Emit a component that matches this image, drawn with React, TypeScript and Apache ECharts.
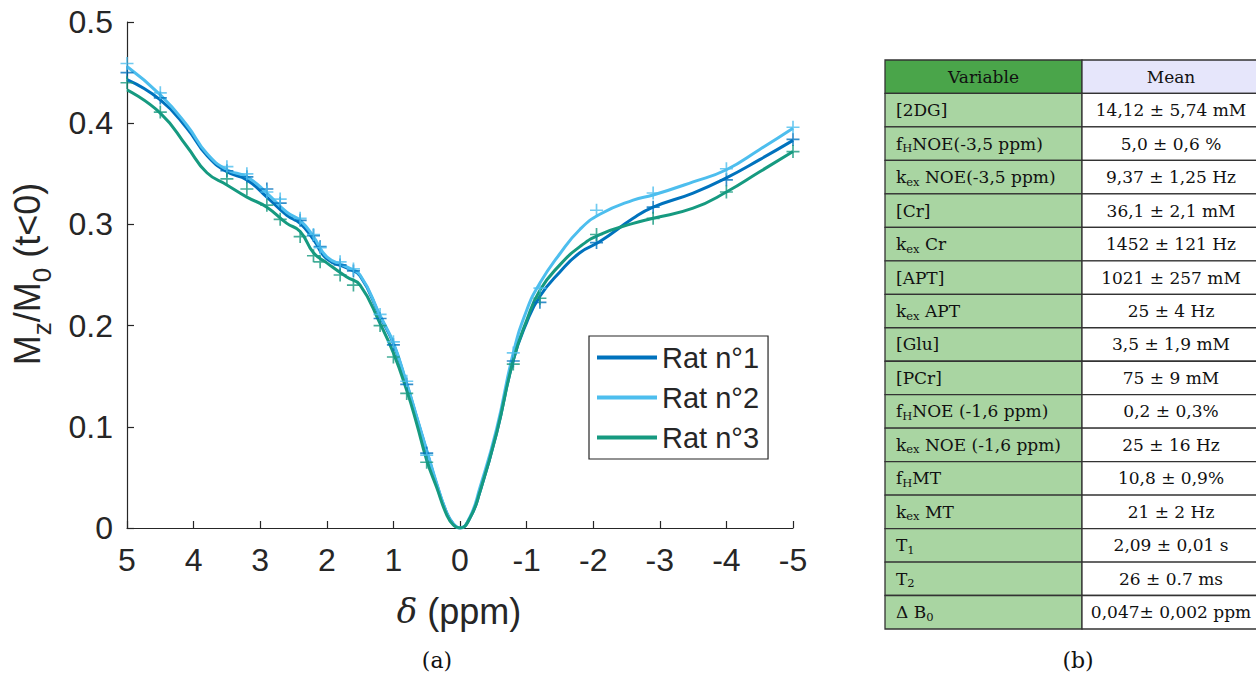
import React, { useEffect, useRef } from 'react';
import * as echarts from 'echarts';

// ---- Data ----
const seriesNames = ['Rat n°1', 'Rat n°2', 'Rat n°3'];

// measured offsets (ppm) for the "+" markers
const offsets = [5, 4.5, 3.5, 3.2, 2.9, 2.7, 2.4, 2.2, 2.1, 1.8, 1.6, 1.2, 1.0, 0.8, 0.5, -0.8, -1.2, -2.05, -2.9, -4, -5];
const rat1Measured = [0.450, 0.425, 0.353, 0.347, 0.335, 0.321, 0.304, 0.289, 0.278, 0.260, 0.254, 0.207, 0.181, 0.142, 0.074, 0.165, 0.223, 0.282, 0.317, 0.344, 0.384];
const rat2Measured = [0.459, 0.430, 0.357, 0.350, 0.332, 0.325, 0.306, 0.290, 0.277, 0.263, 0.256, 0.211, 0.184, 0.145, 0.072, 0.173, 0.237, 0.314, 0.331, 0.355, 0.396];
const rat3Measured = [0.440, 0.411, 0.345, 0.335, 0.319, 0.305, 0.288, 0.269, 0.263, 0.250, 0.240, 0.200, 0.169, 0.133, 0.065, 0.162, 0.227, 0.290, 0.306, 0.332, 0.372];

// fitted curves, read at these offsets
const fitOffsets = [5, 4.5, 4.1, 3.8, 3.5, 3.2, 2.9, 2.6, 2.4, 2.2, 2.0, 1.7, 1.5, 1.2, 1.0, 0.8, 0.65, 0.5, 0.35, 0.2, 0.1, 0, -0.15, -0.3, -0.55, -0.8, -1.0, -1.2, -1.5, -1.8, -2.1, -2.6, -2.9, -3.5, -4.0, -4.5, -5];
const rat1Fit = [0.443, 0.423, 0.395, 0.368, 0.352, 0.344, 0.327, 0.309, 0.301, 0.285, 0.266, 0.257, 0.249, 0.209, 0.182, 0.142, 0.109, 0.076, 0.043, 0.015, 0.004, 0, 0.010, 0.036, 0.094, 0.166, 0.203, 0.229, 0.253, 0.272, 0.283, 0.306, 0.317, 0.331, 0.346, 0.364, 0.383];
const rat2Fit = [0.456, 0.428, 0.398, 0.370, 0.354, 0.347, 0.331, 0.312, 0.304, 0.288, 0.268, 0.258, 0.250, 0.210, 0.183, 0.143, 0.110, 0.077, 0.044, 0.015, 0.004, 0, 0.011, 0.040, 0.098, 0.173, 0.215, 0.242, 0.271, 0.295, 0.310, 0.324, 0.329, 0.342, 0.354, 0.374, 0.395];
const rat3Fit = [0.433, 0.410, 0.377, 0.351, 0.339, 0.327, 0.317, 0.301, 0.293, 0.272, 0.262, 0.248, 0.240, 0.202, 0.173, 0.136, 0.103, 0.067, 0.040, 0.013, 0.003, 0, 0.010, 0.036, 0.094, 0.166, 0.205, 0.235, 0.260, 0.278, 0.290, 0.301, 0.306, 0.316, 0.332, 0.352, 0.372];

// table (b)
const tableHeader = ['Variable', 'Mean'];
const tableVariables = ['[2DG]', 'f_{H}NOE(-3,5 ppm)', 'k_{ex} NOE(-3,5 ppm)', '[Cr]', 'k_{ex} Cr', '[APT]', 'k_{ex} APT', '[Glu]', '[PCr]', 'f_{H}NOE (-1,6 ppm)', 'k_{ex} NOE (-1,6 ppm)', 'f_{H}MT', 'k_{ex} MT', 'T_{1}', 'T_{2}', 'Δ B_{0}'];
const tableMeans = ['14,12 ± 5,74 mM', '5,0 ± 0,6 %', '9,37 ± 1,25 Hz', '36,1 ± 2,1 mM', '1452 ± 121 Hz', '1021 ± 257 mM', '25 ± 4 Hz', '3,5 ± 1,9 mM', '75 ± 9 mM', '0,2 ± 0,3%', '25 ± 16 Hz', '10,8 ± 0,9%', '21 ± 2 Hz', '2,09 ± 0,01 s', '26 ± 0.7 ms', '0,047± 0,002 ppm'];

const colors = ['#0072BD', '#4DBEEE', '#169A80'];
const axisColor = '#262626';
const sansFont = '"Liberation Sans", Arial, sans-serif';
const serifFont = '"DejaVu Serif", serif';

function toRich(s: string, n: string, sub: string): string {
  const parts = s.split(/_\{([^}]*)\}/);
  return parts.map((p, i) => (p === '' ? '' : `{${i % 2 ? sub : n}|${p}}`)).join('');
}

export default function App() {
  const ref = useRef<HTMLDivElement>(null);

  useEffect(() => {
    const chart = echarts.init(ref.current!, null, { renderer: 'svg' });
    const fits = [rat1Fit, rat2Fit, rat3Fit];
    const meas = [rat1Measured, rat2Measured, rat3Measured];
    const plus = 'path://M0,8.7L20,8.7L20,11.3L0,11.3ZM8.7,0L11.3,0L11.3,20L8.7,20Z';

    // table graphic
    const tblLeft = 885, tblSplit = 1082, tblRight = 1262, tblTop = 60, rowH = 33.47;
    const tableEls: any[] = [];
    const rows = [tableHeader, ...tableVariables.map((v, i) => [v, tableMeans[i]])];
    const richTable = {
      n: { fontSize: 17, fontFamily: serifFont, fill: '#111' },
      s: { fontSize: 11.5, fontFamily: serifFont, fill: '#111', verticalAlign: 'top', padding: [9, 0, 0, 0] },
    };
    rows.forEach((r, i) => {
      const y = tblTop + i * rowH;
      tableEls.push({
        type: 'rect', shape: { x: tblLeft, y, width: tblSplit - tblLeft, height: rowH },
        style: { fill: i === 0 ? '#4AA54A' : '#A9D5A2', stroke: '#333', lineWidth: 1.3 }, z: 1,
      });
      tableEls.push({
        type: 'rect', shape: { x: tblSplit, y, width: tblRight - tblSplit, height: rowH },
        style: { fill: i === 0 ? '#E6E6FB' : '#ffffff', stroke: '#333', lineWidth: 1.3 }, z: 1,
      });
      tableEls.push({
        type: 'text', x: i === 0 ? (tblLeft + tblSplit) / 2 : 896, y: y + rowH / 2,
        style: { text: toRich(r[0], 'n', 's'), rich: richTable, align: i === 0 ? 'center' : 'left', verticalAlign: 'middle' }, z: 2,
      });
      tableEls.push({
        type: 'text', x: 1171, y: y + rowH / 2,
        style: { text: toRich(r[1], 'n', 's'), rich: richTable, align: 'center', verticalAlign: 'middle' }, z: 2,
      });
    });

    const option: any = {
      animation: false,
      backgroundColor: '#ffffff',
      grid: { left: 127, right: 1256 - 793, top: 22, bottom: 675 - 528, containLabel: false },
      xAxis: {
        type: 'value', min: -5, max: 5, interval: 1, inverse: true, position: 'bottom',
        axisLine: { show: true, onZero: false, lineStyle: { color: axisColor, width: 1.2 } },
        axisTick: { show: true, inside: true, length: 7, lineStyle: { color: axisColor, width: 1.2 } },
        axisLabel: { fontSize: 32, color: axisColor, fontFamily: sansFont, margin: 16, formatter: (v: number) => String(v) },
        splitLine: { show: false },
      },
      yAxis: {
        type: 'value', min: 0, max: 0.5, interval: 0.1, position: 'left',
        axisLine: { show: true, onZero: false, lineStyle: { color: axisColor, width: 1.2 } },
        axisTick: { show: true, inside: true, length: 7, lineStyle: { color: axisColor, width: 1.2 } },
        axisLabel: { fontSize: 32, color: axisColor, fontFamily: sansFont, margin: 14, formatter: (v: number) => String(Math.round(v * 10) / 10) },
        splitLine: { show: false },
      },
      legend: {
        data: seriesNames, orient: 'vertical', left: 589, top: 336,
        backgroundColor: '#ffffff', borderColor: axisColor, borderWidth: 1.2, borderRadius: 0,
        padding: [7, 9, 7, 8], itemWidth: 60, itemHeight: 4, itemGap: 11, icon: 'rect',
        textStyle: { fontSize: 29, color: axisColor, fontFamily: sansFont },
        selectedMode: false,
      },
      series: [
        ...seriesNames.map((n, i) => ({
          type: 'line', name: n, data: fitOffsets.map((x, j) => [x, fits[i][j]]),
          smooth: 0.5, showSymbol: false, symbol: 'none',
          lineStyle: { width: 3, color: colors[i] }, itemStyle: { color: colors[i] }, z: 2,
        })),
        ...seriesNames.map((n, i) => ({
          type: 'scatter', name: n + ' (data)', data: offsets.map((x, j) => [x, meas[i][j]]),
          symbol: plus, symbolSize: 13, itemStyle: { color: colors[i] }, z: 3,
        })),
      ],
      graphic: [
        {
          type: 'text', x: 27, y: 274, rotation: Math.PI / 2,
          style: {
            text: '{n|M}{s|z}{n|/M}{s|0}{n| (t<0)}',
            rich: {
              n: { fontSize: 36, fontFamily: sansFont, fill: axisColor },
              s: { fontSize: 26, fontFamily: sansFont, fill: axisColor, verticalAlign: 'top', padding: [30, 0, 0, 0] },
            },
            align: 'center', verticalAlign: 'middle',
          },
        },
        {
          type: 'text', x: 459, y: 611,
          style: {
            text: '{d|δ}{n| (ppm)}',
            rich: {
              d: { fontSize: 34, fontFamily: serifFont, fontStyle: 'italic', fill: axisColor },
              n: { fontSize: 36, fontFamily: sansFont, fill: axisColor },
            },
            align: 'center', verticalAlign: 'middle',
          },
        },
        { type: 'text', x: 437, y: 660, style: { text: '(a)', font: `22px ${serifFont}`, fill: '#111', align: 'center', verticalAlign: 'middle' } },
        { type: 'text', x: 1078, y: 660, style: { text: '(b)', font: `22px ${serifFont}`, fill: '#111', align: 'center', verticalAlign: 'middle' } },
        ...tableEls,
      ],
    };
    chart.setOption(option);
    return () => chart.dispose();
  }, []);

  return <div ref={ref} style={{ position: 'absolute', left: 0, top: 0, width: 1256, height: 675, background: '#fff' }} />;
}
